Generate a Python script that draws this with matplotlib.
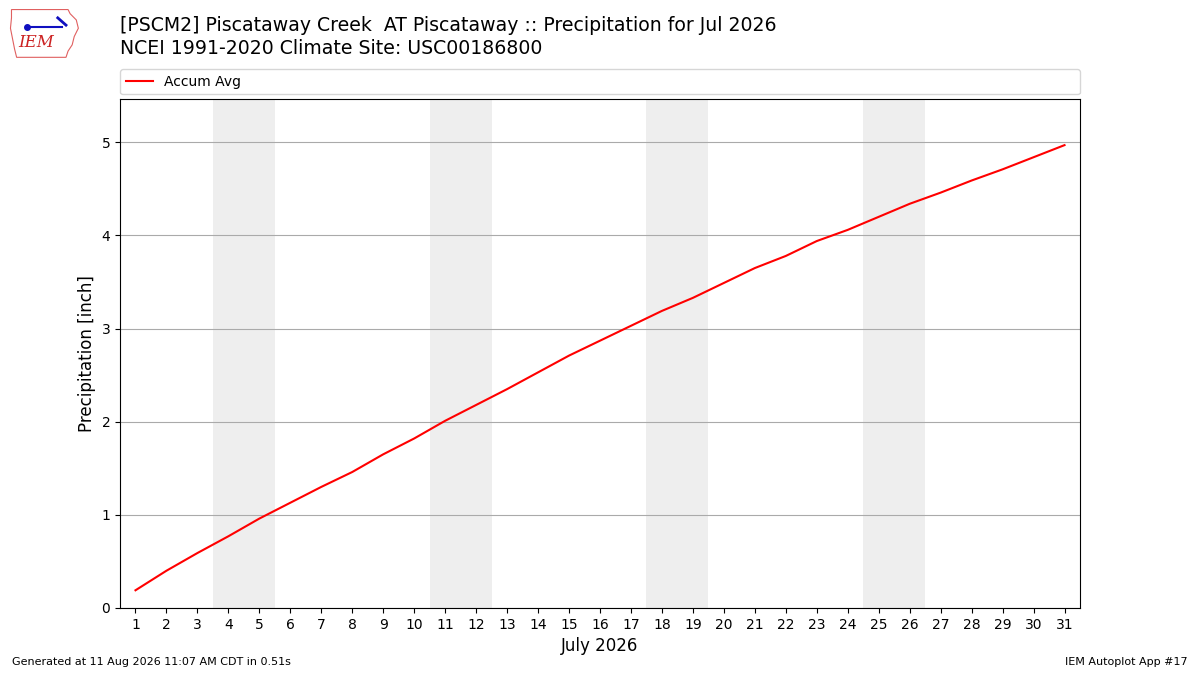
import matplotlib
matplotlib.use("Agg")
import matplotlib.pyplot as plt
from matplotlib.patches import Polygon

days = list(range(1, 32))
accum_avg = [0.19, 0.40, 0.59, 0.77, 0.96, 1.13, 1.30, 1.46, 1.65, 1.82,
             2.01, 2.18, 2.35, 2.53, 2.71, 2.87, 3.03, 3.19, 3.33, 3.49,
             3.65, 3.78, 3.94, 4.06, 4.20, 4.34, 4.46, 4.59, 4.71, 4.84, 4.97]
weekends = [(4, 5), (11, 12), (18, 19), (25, 26)]
title_lines = ["[PSCM2] Piscataway Creek  AT Piscataway :: Precipitation for Jul 2026",
               "NCEI 1991-2020 Climate Site: USC00186800"]

fig = plt.figure(figsize=(12, 6.75), dpi=100)
ax = fig.add_axes([0.1, 0.0993, 0.8, 0.7533])

for a, b in weekends:
    ax.axvspan(a - 0.5, b + 0.5, color="#eeeeee", zorder=0, lw=0)

ax.plot(days, accum_avg, color="red", lw=1.5, label="Accum Avg", zorder=3)
ax.set_xlim(0.5, 31.5)
ax.set_ylim(0, 5.46)
ax.set_xticks(days)
ax.set_xticklabels([str(d) for d in days])
ax.set_yticks([0, 1, 2, 3, 4, 5])
ax.yaxis.grid(True, color="#aaaaaa", lw=0.8)
ax.set_axisbelow(True)
ax.tick_params(labelsize=10)
ax.set_ylabel("Precipitation [inch]", fontsize=12)
ax.set_xlabel("July 2026", fontsize=12)

ax.legend(loc="lower left", bbox_to_anchor=(0, 1.01, 1, 0.05), mode="expand",
          ncol=1, fontsize=10, borderaxespad=0, frameon=True)

fig.text(0.1, 0.962, title_lines[0], fontsize=13.6, va="center", ha="left")
fig.text(0.1, 0.928, title_lines[1], fontsize=13.6, va="center", ha="left")

fig.text(0.01, 0.015, "Generated at 11 Aug 2026 11:07 AM CDT in 0.51s", fontsize=8, ha="left")
fig.text(0.99, 0.015, "IEM Autoplot App #17", fontsize=8, ha="right")

# logo approximation
lax = fig.add_axes([0.007, 0.912, 0.06, 0.08])
lax.set_xlim(0, 70)
lax.set_ylim(0, 52)
lax.axis("off")
outline = [(3, 48), (58, 48), (60, 44), (66, 38), (68, 30), (64, 22), (62, 14),
           (58, 8), (56, 2), (8, 2), (6, 10), (4, 20), (2, 30), (3, 40)]
lax.add_patch(Polygon(outline, closed=True, fill=False, edgecolor="#e06060", lw=0.8))
lax.text(10, 12, "IEM", color="#cc2222", fontsize=12, family="serif", style="italic")
lax.plot([20, 52], [31, 31], color="#1010c0", lw=1.5)
lax.plot([18], [31], marker="o", color="#1010c0", ms=4)
lax.plot([48, 56], [40, 33], color="#1010c0", lw=2)

fig.savefig("out.png", dpi=100)
